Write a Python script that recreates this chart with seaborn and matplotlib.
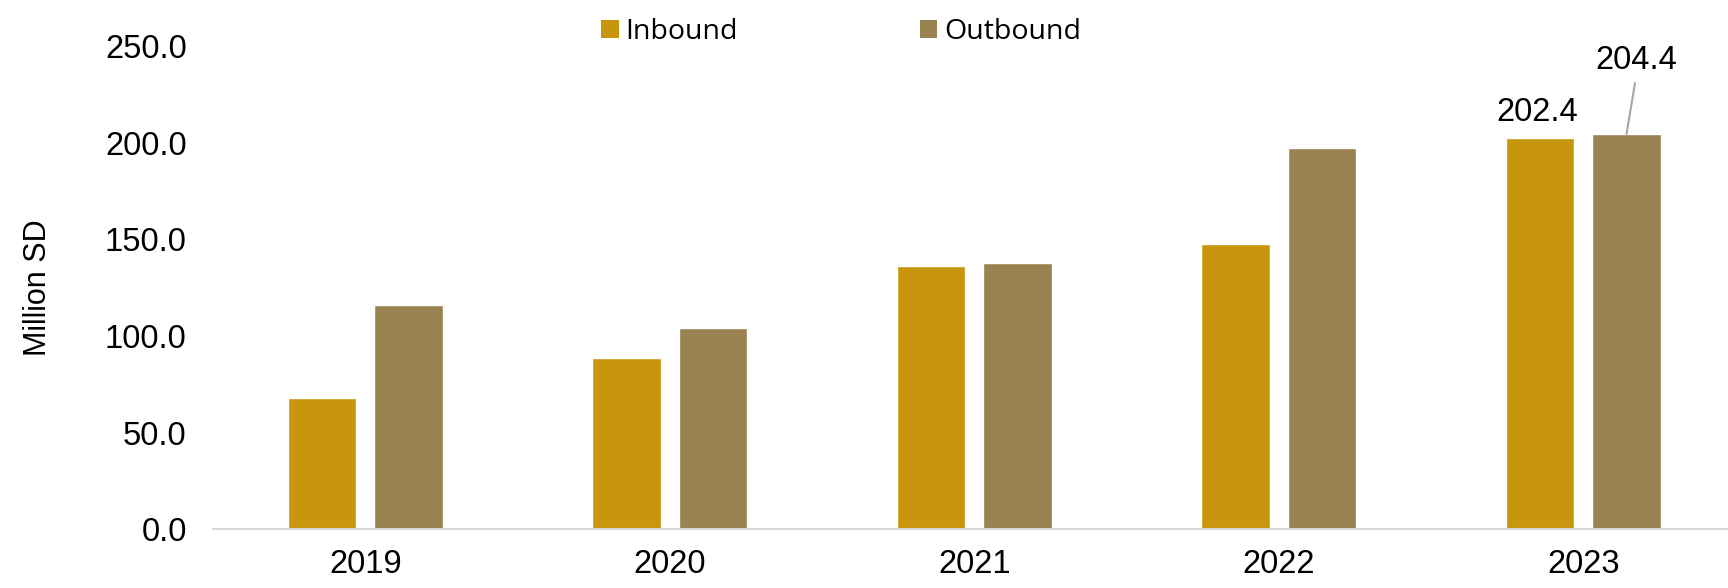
import numpy as np
import pandas as pd
import matplotlib
matplotlib.use("Agg")
import matplotlib.pyplot as plt
import seaborn as sns
from matplotlib.patches import Patch

# values (Million SD)
years = ["2019", "2020", "2021", "2022", "2023"]
inbound = [67.8, 88.3, 136.1, 147.5, 202.4]
outbound = [116.2, 104.2, 137.8, 197.0, 204.4]
series = ["Inbound", "Outbound"]
colors = ["#C8960C", "#978250"]

df = pd.DataFrame({
    "Year": years * 2,
    "Value": inbound + outbound,
    "Flow": [series[0]] * len(years) + [series[1]] * len(years),
})

sns.set_style("white")
plt.rcParams['font.family'] = ['Liberation Sans', 'DejaVu Sans']
plt.rcParams['text.color'] = 'black'
plt.rcParams['xtick.color'] = 'black'
plt.rcParams['ytick.color'] = 'black'
plt.rcParams['axes.labelcolor'] = 'black'

fig = plt.figure(figsize=(17.28, 5.88), dpi=100)
ax = fig.add_axes([0.1233, 0.1, 0.881, 0.822])

sns.barplot(data=df, x="Year", y="Value", hue="Flow", palette=colors,
            width=0.569, gap=0.21, saturation=1, ax=ax, legend=False)

ax.set_xlim(-0.5, 4.5)
ax.set_ylim(0, 250)
ax.set_yticks(np.arange(0, 251, 50))
ax.set_yticklabels([f"{v:.1f}" for v in np.arange(0, 251, 50)])
ax.set_xlabel("")
ax.set_ylabel("Million SD", fontsize=22, labelpad=37)
ax.tick_params(axis="both", length=0, labelsize=23.5)
ax.tick_params(axis="y", pad=19)
ax.tick_params(axis="x", pad=14)
for s in ["top", "right", "left"]:
    ax.spines[s].set_visible(False)
ax.spines["bottom"].set_color("#d9d9d9")
ax.spines["bottom"].set_linewidth(1.5)

# labels on the last year's bars
bars = ax.patches
n = len(years)
b_in = bars[n - 1]
b_out = bars[2 * n - 1]
ax.annotate(f"{inbound[-1]:.1f}", (b_in.get_x() + b_in.get_width() / 2, b_in.get_height()),
            xytext=(-2, 7), textcoords="offset points", ha="center", va="bottom", fontsize=23.5)
ax.annotate(f"{outbound[-1]:.1f}", (b_out.get_x() + b_out.get_width() / 2, b_out.get_height()),
            xytext=(7, 42), textcoords="offset points", ha="center", va="bottom", fontsize=23.5,
            arrowprops=dict(arrowstyle="-", color="#a6a6a6", lw=1.5, shrinkA=3, shrinkB=0,
                            relpos=(0.5, 0)))

handles = [Patch(facecolor=c, edgecolor="none") for c in colors]
fig.legend(handles, series, loc="center", bbox_to_anchor=(0.487, 0.946), ncol=2,
           frameon=False, prop={"family": "Open Sans", "size": 20.5},
           handlelength=0.6, handleheight=0.6, handletextpad=0.25, columnspacing=6.4)

fig.savefig("out.png", dpi=100)
